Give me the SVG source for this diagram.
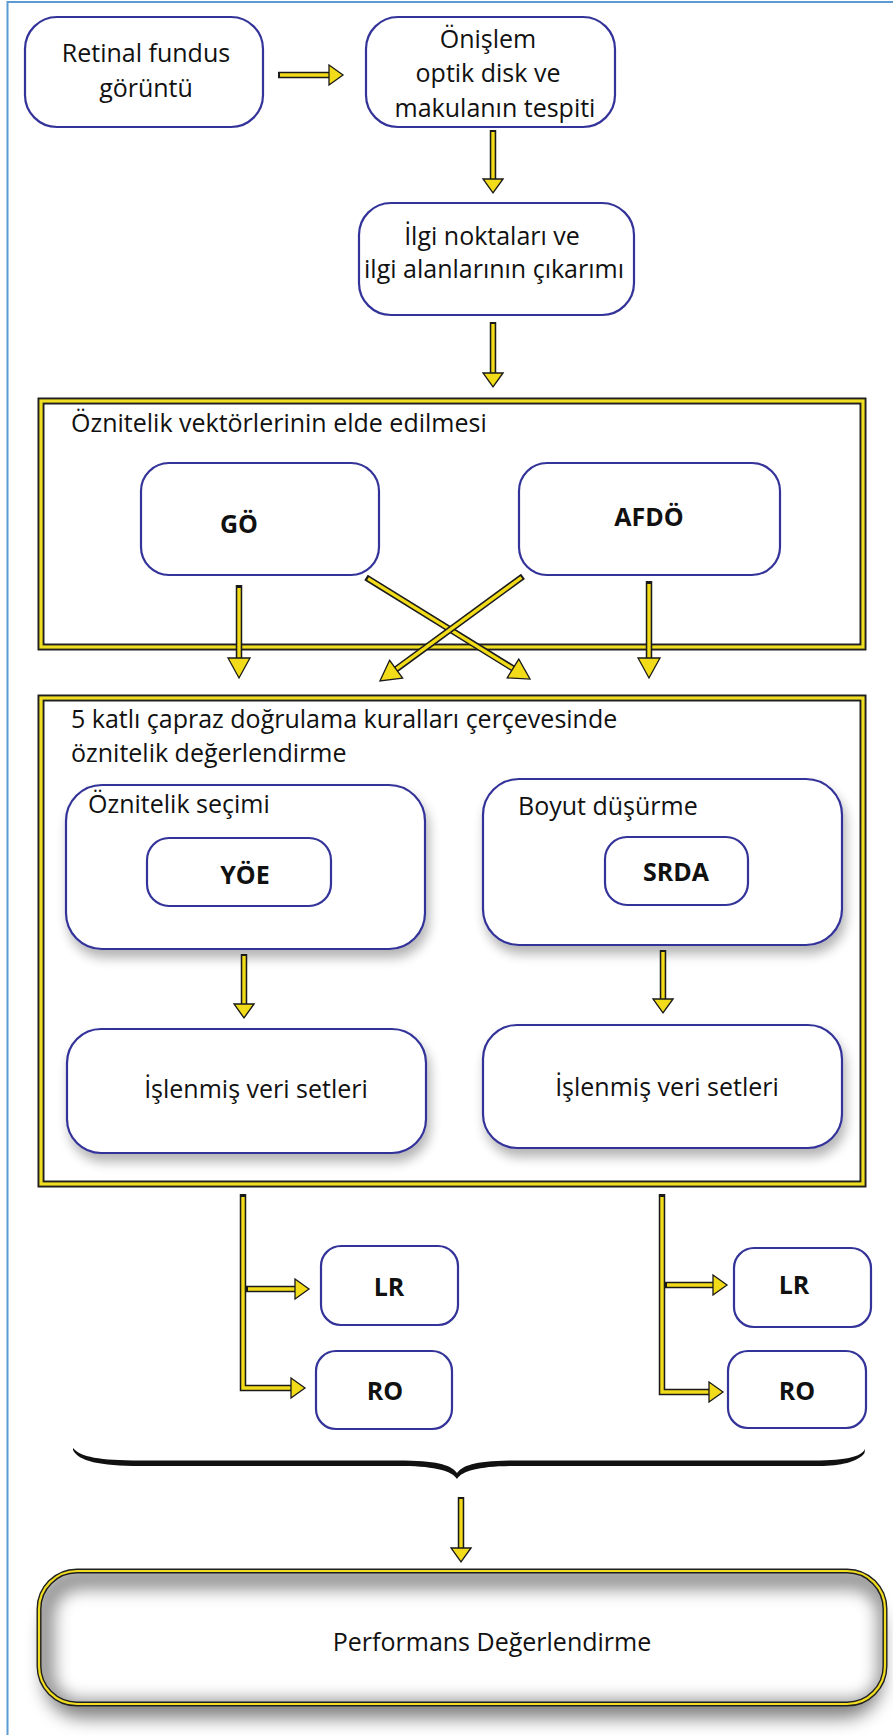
<svg xmlns="http://www.w3.org/2000/svg" width="893" height="1735" viewBox="0 0 893 1735">
  <style>
    .box { fill: #fff; stroke: #333399; stroke-width: 2.2; }
    .t { font-family: 'Open Sans', 'Noto Sans', sans-serif; font-size: 25px; fill: #111; }
    .c { text-anchor: middle; }
    .b { font-weight: 700; font-size: 25px; }
    .ao { fill: none; stroke: #1a1a1a; stroke-width: 6.5; stroke-linejoin: miter; }
    .ai { fill: none; stroke: #f2dc1a; stroke-width: 3.4; stroke-linejoin: miter; }
    .fo { fill: none; stroke: #1f1f1f; stroke-width: 7; }
    .fi { fill: none; stroke: #f0dc20; stroke-width: 3.2; }
  </style>
  <defs>
    <marker id="ah" markerUnits="userSpaceOnUse" viewBox="0 0 18 24" markerWidth="18" markerHeight="24" refX="1" refY="12" orient="auto" overflow="visible">
      <path d="M1,2 L15,12 L1,22 Z" fill="#f2dc1a" stroke="#1a1a1a" stroke-width="1.3"/>
    </marker>
    <marker id="ahL" markerUnits="userSpaceOnUse" viewBox="0 0 24 26" markerWidth="24" markerHeight="26" refX="1" refY="13" orient="auto" overflow="visible">
      <path d="M1,2 L21,13 L1,24 Z" fill="#f2dc1a" stroke="#1a1a1a" stroke-width="1.3"/>
    </marker>
    <filter id="drop" x="-10%" y="-15%" width="125%" height="145%">
      <feGaussianBlur in="SourceAlpha" stdDeviation="6"/>
      <feOffset dx="3" dy="8"/>
      <feComponentTransfer><feFuncA type="linear" slope="0.3"/></feComponentTransfer>
      <feMerge><feMergeNode/><feMergeNode in="SourceGraphic"/></feMerge>
    </filter>
    <filter id="softShadow" x="-10%" y="-40%" width="120%" height="180%">
      <feGaussianBlur stdDeviation="9"/>
    </filter>
    <filter id="insetBlur" x="-10%" y="-30%" width="120%" height="160%">
      <feGaussianBlur stdDeviation="8"/>
    </filter>
    <clipPath id="perfClip">
      <rect x="39" y="1571" width="846" height="133" rx="38"/>
    </clipPath>
  </defs>

  <rect width="893" height="1735" fill="#fff"/>
  <!-- page border (top and left edges) -->
  <path d="M7.5,1735 V2 H893" fill="none" stroke="#5b9bd5" stroke-width="2"/>

  <!-- outer frames -->
  <g id="frame-vectors">
    <rect class="fo" x="41" y="401" width="822" height="246"/>
    <rect class="fi" x="41" y="401" width="822" height="246"/>
    <text class="t" x="71" y="432">Öznitelik vektörlerinin elde edilmesi</text>
  </g>
  <g id="frame-evaluation">
    <rect class="fo" x="41" y="698" width="822" height="486"/>
    <rect class="fi" x="41" y="698" width="822" height="486"/>
    <text class="t" x="71" y="728">5 katlı çapraz doğrulama kuralları çerçevesinde</text>
    <text class="t" x="71" y="762">öznitelik değerlendirme</text>
  </g>

  <!-- nodes -->
  <g id="retinal">
    <rect class="box" x="25" y="17" width="238" height="110" rx="32"/>
    <text class="t c" x="146" y="62">Retinal fundus</text>
    <text class="t c" x="146" y="97">görüntü</text>
  </g>
  <g id="preprocess">
    <rect class="box" x="366" y="17" width="249" height="110" rx="32"/>
    <text class="t c" x="488" y="48">Önişlem</text>
    <text class="t c" x="488" y="82">optik disk ve</text>
    <text class="t c" x="495" y="117">makulanın tespiti</text>
  </g>
  <g id="roi">
    <rect class="box" x="359" y="203" width="275" height="112" rx="32"/>
    <text class="t c" x="492" y="245">İlgi noktaları ve</text>
    <text class="t c" x="494" y="278">ilgi alanlarının çıkarımı</text>
  </g>
  <g id="go">
    <rect class="box" x="141" y="463" width="238" height="112" rx="28"/>
    <text class="t c b" x="239" y="533">GÖ</text>
  </g>
  <g id="afdo">
    <rect class="box" x="519" y="463" width="261" height="112" rx="28"/>
    <text class="t c b" x="649" y="526">AFDÖ</text>
  </g>
  <g id="feature-selection">
    <rect class="box" x="66" y="785" width="359" height="164" rx="36" filter="url(#drop)"/>
    <text class="t" x="88" y="813">Öznitelik seçimi</text>
  </g>
  <g id="yoe">
    <rect class="box" x="147" y="838" width="184" height="68" rx="22"/>
    <text class="t c b" x="245" y="884">YÖE</text>
  </g>
  <g id="dim-reduction">
    <rect class="box" x="483" y="779" width="359" height="166" rx="36" filter="url(#drop)"/>
    <text class="t" x="518" y="815">Boyut düşürme</text>
  </g>
  <g id="srda">
    <rect class="box" x="605" y="837" width="143" height="68" rx="22"/>
    <text class="t c b" x="676" y="881">SRDA</text>
  </g>
  <g id="processed-left">
    <rect class="box" x="67" y="1029" width="359" height="124" rx="34" filter="url(#drop)"/>
    <text class="t c" x="256" y="1098">İşlenmiş veri setleri</text>
  </g>
  <g id="processed-right">
    <rect class="box" x="483" y="1025" width="359" height="123" rx="34" filter="url(#drop)"/>
    <text class="t c" x="667" y="1096">İşlenmiş veri setleri</text>
  </g>
  <g id="lr-left">
    <rect class="box" x="321" y="1246" width="137" height="79" rx="20"/>
    <text class="t c b" x="389" y="1296">LR</text>
  </g>
  <g id="ro-left">
    <rect class="box" x="316" y="1351" width="136" height="78" rx="20"/>
    <text class="t c b" x="385" y="1400">RO</text>
  </g>
  <g id="lr-right">
    <rect class="box" x="734" y="1248" width="137" height="79" rx="20"/>
    <text class="t c b" x="794" y="1294">LR</text>
  </g>
  <g id="ro-right">
    <rect class="box" x="728" y="1351" width="138" height="77" rx="20"/>
    <text class="t c b" x="797" y="1400">RO</text>
  </g>

  <!-- brace gathering both branches -->
  <g id="brace">
    <path d="M73,1448 C80,1457 100,1460.5 140,1460.5 L405,1460.5 C440,1461 452,1466 457,1473 C462,1466 474,1461 509,1460.5 L820,1460.5 C852,1460 862,1455 865,1449 L864.5,1453 C858,1462 840,1466 820,1466 L510,1466 C478,1466.5 462,1471 457,1479 C452,1471 436,1466.5 404,1466 L140,1466 C100,1466 78,1461 73,1450 Z" fill="#111"/>
  </g>

  <g id="performance">
    <rect x="44" y="1594" width="838" height="124" rx="38" fill="#000" opacity="0.5" filter="url(#softShadow)"/>
    <rect x="39" y="1571" width="846" height="133" rx="38" fill="#fff"/>
    <!-- inner shading along the rim -->
    <g clip-path="url(#perfClip)">
      <rect x="43" y="1578" width="846" height="133" rx="38" fill="none" stroke="#000" stroke-opacity="0.4" stroke-width="24" filter="url(#insetBlur)"/>
    </g>
    <rect x="39" y="1571" width="846" height="133" rx="38" fill="none" stroke="#1f1f1f" stroke-width="5"/>
    <rect x="39" y="1571" width="846" height="133" rx="38" fill="none" stroke="#f0dc20" stroke-width="2.2"/>
    <text class="t c" x="492" y="1651">Performans Değerlendirme</text>
  </g>

  <!-- connectors -->
  <g id="connectors">
    <path class="ao" d="M278,75 H330"/>
    <path class="ai" d="M280,75 H329" marker-end="url(#ah)"/>

    <path class="ao" d="M493,130 V180"/>
    <path class="ai" d="M493,132 V179" marker-end="url(#ah)"/>

    <path class="ao" d="M493,322 V374"/>
    <path class="ai" d="M493,324 V373" marker-end="url(#ah)"/>

    <path class="ao" d="M239,585 V659"/>
    <path class="ai" d="M239,588 V658" marker-end="url(#ahL)"/>

    <path class="ao" d="M649,581 V659"/>
    <path class="ai" d="M649,584 V658" marker-end="url(#ahL)"/>

    <path class="ao" d="M366,577.4 L514,669"/>
    <path class="ai" d="M368,578.6 L513,668.5" marker-end="url(#ahL)"/>

    <path class="ao" d="M523,576.3 L395.3,669.8"/>
    <path class="ai" d="M521.4,577.5 L396.1,669.2" marker-end="url(#ahL)"/>

    <path class="ao" d="M244,954 V1005"/>
    <path class="ai" d="M244,956 V1004" marker-end="url(#ah)"/>

    <path class="ao" d="M663,950 V1000"/>
    <path class="ai" d="M663,952 V999" marker-end="url(#ah)"/>

    <path class="ao" d="M243,1194 V1388 H292"/>
    <path class="ai" d="M243,1197 V1388 H291" marker-end="url(#ah)"/>
    <path class="ao" d="M246,1289 H296"/>
    <path class="ai" d="M248,1289 H295" marker-end="url(#ah)"/>

    <path class="ao" d="M662,1194 V1392 H710"/>
    <path class="ai" d="M662,1197 V1392 H709" marker-end="url(#ah)"/>
    <path class="ao" d="M665,1285 H714"/>
    <path class="ai" d="M667,1285 H713" marker-end="url(#ah)"/>

    <path class="ao" d="M461,1497 V1549"/>
    <path class="ai" d="M461,1499 V1548" marker-end="url(#ah)"/>
  </g>
</svg>
